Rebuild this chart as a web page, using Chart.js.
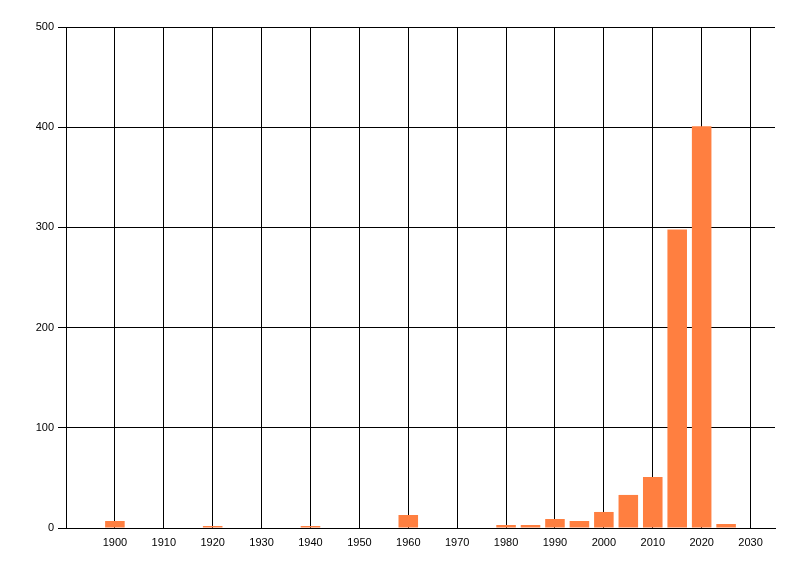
<!DOCTYPE html>
<html>
<head>
<meta charset="utf-8">
<script src="https://cdn.jsdelivr.net/npm/chart.js@4/dist/chart.umd.min.js"></script>
<style>
html,body{margin:0;padding:0;background:#fff;}
#wrap{width:800px;height:576px;position:relative;}
</style>
</head>
<body>
<div id="wrap"><canvas id="c" width="800" height="576"></canvas></div>
<script>
const years = [1900, 1920, 1940, 1960, 1980, 1985, 1990, 1995, 2000, 2005, 2010, 2015, 2020, 2025];
const counts = [7, 2, 2, 13, 3, 3, 9, 7, 16, 33, 51, 298, 401, 4];
const xTicks = [1900, 1910, 1920, 1930, 1940, 1950, 1960, 1970, 1980, 1990, 2000, 2010, 2020, 2030];
const yTicks = [0, 100, 200, 300, 400, 500];

const points = years.map((y, i) => ({x: y, y: counts[i]}));

new Chart(document.getElementById('c'), {
  type: 'bar',
  data: {
    datasets: [{
      data: points,
      backgroundColor: '#FF7F40',
      borderWidth: 0,
      barPercentage: 0.8,
      categoryPercentage: 1.0
    }]
  },
  options: {
    responsive: false,
    animation: false,
    devicePixelRatio: 1,
    layout: { padding: { top: 27, right: 25, left: 0, bottom: 0 } },
    plugins: { legend: { display: false }, tooltip: { enabled: false } },
    scales: {
      x: {
        type: 'linear',
        min: 1890,
        max: 2035,
        offset: false,
        afterBuildTicks: s => { s.ticks = xTicks.map(v => ({value: v})); },
        afterFit: s => { s.height = 48; },
        grid: { color: '#000', lineWidth: 1, drawTicks: false, offset: false },
        border: { color: '#000', width: 1 },
        ticks: { color: '#000', padding: 8, maxRotation: 0, autoSkip: false,
                 callback: v => String(v),
                 font: { family: 'Liberation Sans', size: 11 } }
      },
      y: {
        min: 0,
        max: 500,
        afterBuildTicks: s => { s.ticks = yTicks.map(v => ({value: v})); },
        afterFit: s => { s.width = 66; },
        grid: { color: '#000', lineWidth: 1, drawTicks: true, tickLength: 8 },
        border: { color: '#000', width: 1 },
        ticks: { color: '#000', padding: 4,
                 callback: v => String(v),
                 font: { family: 'Liberation Sans', size: 11 } }
      }
    }
  }
});
</script>
</body>
</html>
